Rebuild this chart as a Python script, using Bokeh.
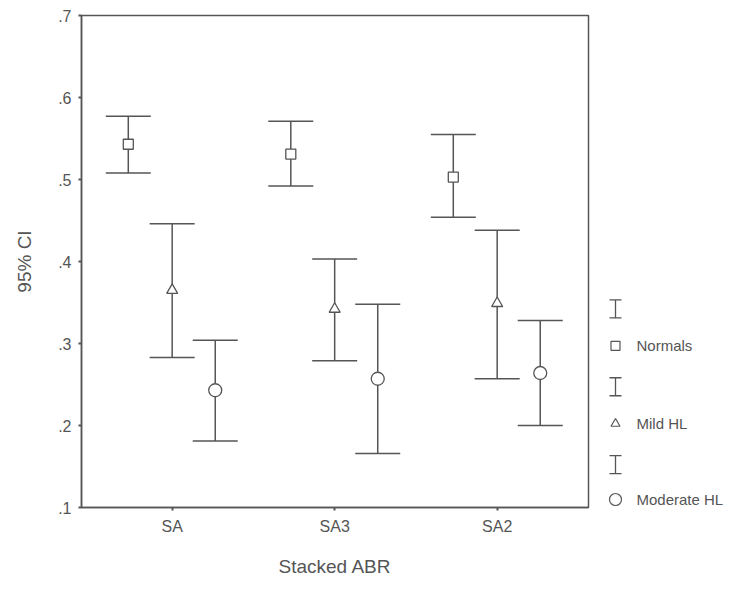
from bokeh.plotting import figure
from bokeh.layouts import row
from bokeh.models import Range1d, FixedTicker, CustomJSTickFormatter
from bokeh.core.properties import value
from bokeh.embed import file_html
from bokeh.resources import INLINE

# ---- data ----
categories = ["SA", "SA3", "SA2"]
series = ["Normals", "Mild HL", "Moderate HL"]
series_markers = ["square", "triangle", "circle"]

normals_mean = [0.543, 0.531, 0.503]
normals_low = [0.508, 0.492, 0.454]
normals_high = [0.577, 0.571, 0.555]

mild_mean = [0.365, 0.342, 0.349]
mild_low = [0.283, 0.279, 0.257]
mild_high = [0.446, 0.403, 0.438]

moderate_mean = [0.243, 0.257, 0.264]
moderate_low = [0.181, 0.166, 0.200]
moderate_high = [0.304, 0.348, 0.328]

y_ticks = [0.1, 0.2, 0.3, 0.4, 0.5, 0.6, 0.7]

# ---- styles ----
FONT = "Liberation Sans"
INK = "#555555"
LINE = "#555555"
offsets = [-0.27, 0.0, 0.265]
marker_sizes = [10, 11, 13]

TOP, BOTTOM = 15, 71

main = figure(width=600, height=579,
              x_range=Range1d(-0.558, 2.562), y_range=Range1d(0.1, 0.7),
              output_backend="svg", toolbar_location=None,
              min_border_left=81, min_border_right=12,
              min_border_top=TOP, min_border_bottom=BOTTOM)
main.grid.visible = False
main.outline_line_color = LINE
main.outline_line_width = 1.5

groups = [
    (normals_mean, normals_low, normals_high),
    (mild_mean, mild_low, mild_high),
    (moderate_mean, moderate_low, moderate_high),
]

for k, (mean, lo, hi) in enumerate(groups):
    xs = [i + offsets[k] for i in range(len(categories))]
    main.segment(x0=xs, y0=lo, x1=xs, y1=hi, line_color=LINE, line_width=1.5)
    main.scatter(x=xs, y=lo, marker="dash", size=45, line_color=LINE, line_width=1.5)
    main.scatter(x=xs, y=hi, marker="dash", size=45, line_color=LINE, line_width=1.5)
    main.scatter(x=xs, y=mean, marker=series_markers[k], size=marker_sizes[k],
                 fill_color="white", line_color=LINE, line_width=1.3)

# axes
xa = main.xaxis[0]
xa.ticker = FixedTicker(ticks=list(range(len(categories))))
xa.major_label_overrides = {i: c for i, c in enumerate(categories)}
xa.axis_label = "Stacked ABR"
ya = main.yaxis[0]
ya.ticker = FixedTicker(ticks=y_ticks)
ya.formatter = CustomJSTickFormatter(code="return tick.toFixed(1).replace(/^0/, '');")
ya.axis_label = "95% CI"

for ax in (xa, ya):
    ax.axis_line_color = LINE
    ax.axis_line_width = 1.5
    ax.major_tick_in = 0
    ax.major_tick_out = 3
    ax.major_tick_line_width = 2
    ax.major_tick_line_color = LINE
    ax.minor_tick_line_color = None
    ax.major_label_text_font = FONT
    ax.major_label_text_color = INK
    ax.major_label_text_font_size = "16px"
    ax.axis_label_text_font = FONT
    ax.axis_label_text_font_style = "normal"
    ax.axis_label_text_color = INK
    ax.axis_label_text_font_size = "19px"
    ax.major_label_standoff = 7

xa.axis_label_standoff = 18
ya.axis_label_standoff = 20

# ---- legend panel ----
leg = figure(width=124, height=579, x_range=Range1d(600, 724), y_range=Range1d(508, 15),
             x_axis_location=None, y_axis_location=None,
             min_border_left=0, min_border_right=0,
             min_border_top=TOP, min_border_bottom=BOTTOM,
             output_backend="svg", toolbar_location=None)
leg.grid.visible = False
leg.outline_line_color = None

icon_x = [615, 615, 615]
beam_y = [309, 387, 465]
marker_y = [346, 424, 500]
leg.segment(x0=icon_x, y0=[y - 9 for y in beam_y], x1=icon_x, y1=[y + 9 for y in beam_y],
            line_color=LINE, line_width=1.3)
leg.segment(x0=[x - 6 for x in icon_x], y0=[y - 9 for y in beam_y],
            x1=[x + 6 for x in icon_x], y1=[y - 9 for y in beam_y], line_color=LINE, line_width=1.3)
leg.segment(x0=[x - 6 for x in icon_x], y0=[y + 9 for y in beam_y],
            x1=[x + 6 for x in icon_x], y1=[y + 9 for y in beam_y], line_color=LINE, line_width=1.3)
leg.scatter(x=icon_x, y=marker_y, marker=series_markers, size=[9, 9, 12],
            fill_color="white", line_color=LINE, line_width=1.2)
leg.text(x=[636, 636, 636], y=marker_y, text=series, text_font=value(FONT),
         text_font_size="15px", text_baseline="middle", text_color=INK)

layout = row(main, leg)
open("out.html", "w").write(file_html(layout, INLINE))
